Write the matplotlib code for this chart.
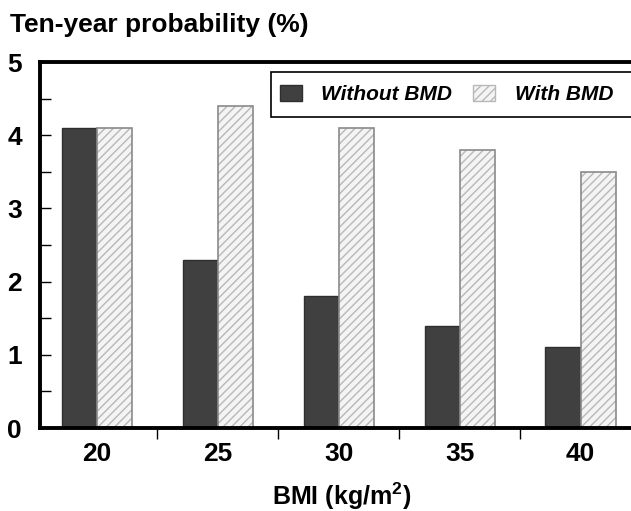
import matplotlib
matplotlib.use("Agg")
import matplotlib.pyplot as plt
from matplotlib.patches import Rectangle, Patch
import numpy as np

plt.rcParams['font.family'] = ['Liberation Sans', 'DejaVu Sans']
plt.rcParams['font.weight'] = 'bold'
plt.rcParams['hatch.linewidth'] = 1.0

bmi = ["20", "25", "30", "35", "40"]
without_bmd = [4.1, 2.3, 1.8, 1.4, 1.1]
with_bmd = [4.1, 4.4, 4.1, 3.8, 3.5]

W, H = 631, 511
fig = plt.figure(figsize=(W / 100, H / 100), dpi=100)
ax = fig.add_axes([40 / W, 1 - 428 / H, 601 / W, 366 / H])

x = np.arange(len(bmi))
bw = 0.29
ax.bar(x - bw / 2, without_bmd, bw, color='#404040', edgecolor='#2e2e2e', linewidth=1.0)
# hatch pass and outline pass
ax.bar(x + bw / 2, with_bmd, bw, color='#f4f4f4', edgecolor='#b8b8b8', hatch='////', linewidth=0)
ax.bar(x + bw / 2, with_bmd, bw, color='none', edgecolor='#8a8a8a', linewidth=1.2)

ax.set_xlim(-0.47, 4.5)
ax.set_ylim(0, 5)

for s in ['left', 'bottom', 'top']:
    ax.spines[s].set_linewidth(2.8)
ax.spines['right'].set_visible(False)

ax.set_yticks([0, 1, 2, 3, 4, 5])
ax.set_yticks(np.arange(0.5, 5, 1), minor=True)
ax.tick_params(axis='y', which='both', direction='in', length=8, width=1.0, labelsize=19, pad=13)

ax.set_xticks(x)
ax.set_xticklabels(bmi)
ax.set_xticks(np.arange(0.5, 4.5, 1), minor=True)
ax.tick_params(axis='x', which='major', length=0, labelsize=19, pad=10)
ax.tick_params(axis='x', which='minor', direction='out', length=8, width=1.0)

for lab in ax.get_xticklabels() + ax.get_yticklabels():
    lab.set_fontweight('bold')

fig.text(10 / W, 1 - 32 / H, "Ten-year probability (%)", fontsize=19,
         fontweight='bold', va='baseline', ha='left')
fig.text(342 / W, 1 - 505 / H, "BMI (kg/m$^\\mathregular{2}$)", fontsize=18,
         fontweight='bold', va='baseline', ha='center')

# legend frame runs off the right edge in the original
fig.patches.append(Rectangle((271 / W, 1 - 117 / H), 400 / W, 45 / H,
                             transform=fig.transFigure, facecolor='white',
                             edgecolor='black', linewidth=1.2, zorder=5))
handles = [Patch(facecolor='#404040', edgecolor='#2e2e2e'),
           Patch(facecolor='#f4f4f4', edgecolor='#b8b8b8', hatch='////')]
leg = fig.legend(handles, ["Without BMD", "With BMD"], ncol=2, frameon=False,
                 loc='center left', bbox_to_anchor=(263 / W, 1 - 94.5 / H),
                 prop={'size': 15, 'weight': 'bold', 'style': 'italic'},
                 handlelength=1.05, handleheight=0.8, handletextpad=0.95,
                 columnspacing=1.0, borderpad=0.3)
leg.set_zorder(6)

fig.savefig("out.png", dpi=100)
